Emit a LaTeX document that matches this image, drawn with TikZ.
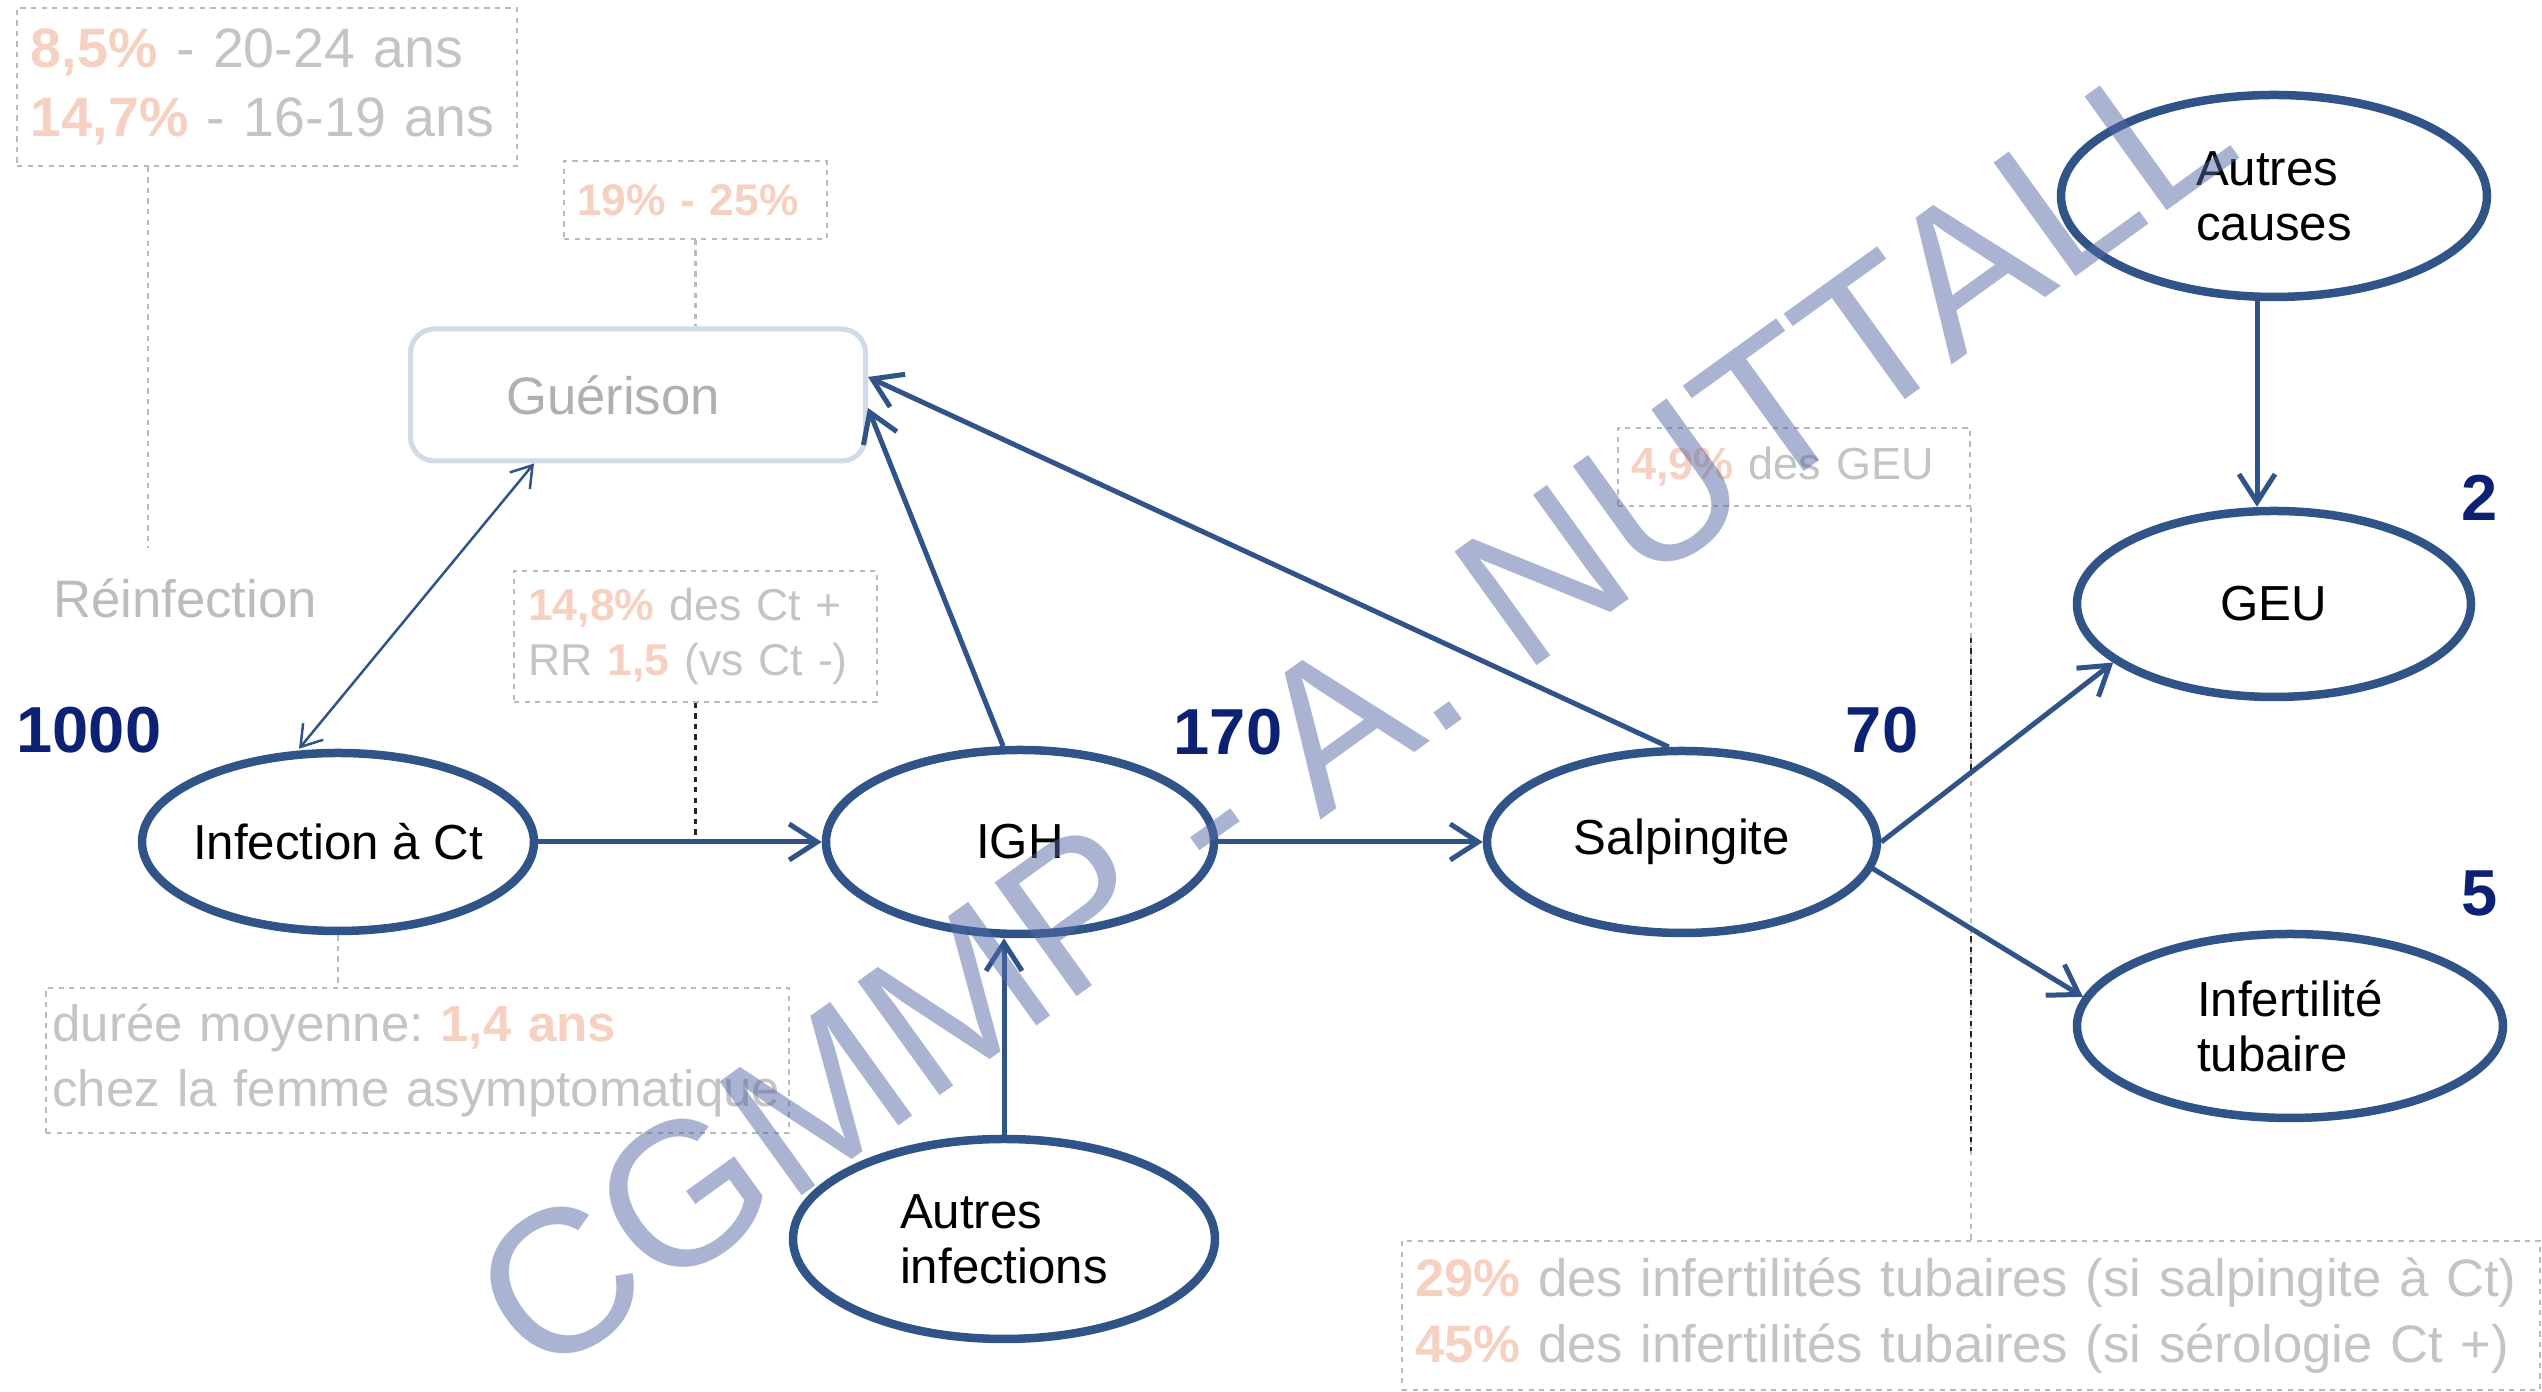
\documentclass[tikz,border=0pt]{standalone}
\usepackage{fontspec}
\setsansfont{Liberation Sans}
\usepackage{xcolor}
\usetikzlibrary{calc}
\usetikzlibrary{positioning}
\usetikzlibrary{shapes.geometric}
\usetikzlibrary{arrows.meta}

\definecolor{ovalblue}{RGB}{48,84,136}
\definecolor{numnavy}{RGB}{12,33,115}
\definecolor{pctorange}{RGB}{246,208,192}
\definecolor{notegrey}{RGB}{196,196,196}
\definecolor{boxgrey}{RGB}{185,185,185}
\definecolor{guerline}{RGB}{208,218,232}
\definecolor{wmblue}{RGB}{85,105,165}

\begin{document}
\begin{tikzpicture}[->, >={Straight Barb[length=2.8mm,width=3.6mm]}, font=\sffamily, node distance=3cm, on grid]
    \tikzstyle{oval}=[ellipse, draw=ovalblue, line width=0.085cm, inner sep=0pt, align=left, font=\sffamily\fontsize{14}{15.6}\selectfont]
    \tikzstyle{count}=[text=numnavy, font=\sffamily\bfseries\fontsize{18.5}{20}\selectfont]
    \tikzstyle{note}=[draw=boxgrey, dash pattern=on 1.5pt off 1.5pt, line width=0.5pt, text=notegrey, align=left, inner xsep=0.14cm, execute at begin node=\frenchspacing]
    \tikzstyle{guide}=[-, draw=boxgrey, dash pattern=on 1.5pt off 1.5pt, line width=0.6pt]
    \tikzstyle{guidedark}=[-, draw=black!85, dash pattern=on 1.5pt off 1.5pt, line width=0.6pt]
    \tikzstyle{arr}=[->, draw=ovalblue, line width=0.05cm]
    \newcommand{\pct}[1]{{\color{pctorange}\bfseries #1}}

    \useasboundingbox (0,0) rectangle (25.42,13.92);

    % main chain
    \node[oval, minimum width=3.92cm, minimum height=1.78cm] (inf) at (3.38,5.50) {\makebox[0pt]{Infection à Ct}};
    \node[oval, right=6.82cm of inf, minimum width=3.88cm, minimum height=1.84cm] (igh) {IGH};
    \node[oval, right=6.62cm of igh, minimum width=3.90cm, minimum height=1.82cm] (salp) {Salpingite};
    \node[oval, below=3.97cm of igh, xshift=-0.16cm, minimum width=4.22cm, minimum height=2.00cm] (autinf) {Autres\\infections};
    \node[oval, above right=2.38cm and 5.92cm of salp, minimum width=3.94cm, minimum height=1.86cm] (geu) {GEU};
    \node[oval, below right=1.84cm and 6.08cm of salp, minimum width=4.26cm, minimum height=1.84cm] (infert) {Infertilité\\tubaire};
    \node[oval, above=4.08cm of geu, minimum width=4.26cm, minimum height=2.02cm] (autcau) {Autres\\causes};
    \node[rectangle, rounded corners=0.24cm, draw=guerline, line width=0.05cm, minimum width=4.55cm, minimum height=1.32cm,
          text={rgb,255:red,176;green,176;blue,176}, font=\sffamily\fontsize{15}{17}\selectfont,
          above right=4.47cm and 3.0cm of inf] (guer) {Guérison\hspace*{0.5cm}};

    % counts
    \node[count] (n1000) at ($(inf)+(-2.49,1.12)$) {1000};
    \node[count] (n170) at ($(igh)+(2.08,1.10)$) {170};
    \node[count] (n70) at ($(salp)+(2.00,1.12)$) {70};
    \node[count] (n2) at ($(geu)+(2.06,1.06)$) {2};
    \node[count] (n5) at ($(infert)+(1.90,1.33)$) {5};
    \node[text={rgb,255:red,188;green,188;blue,188}, font=\sffamily\fontsize{15}{17}\selectfont] (reinf) at ($(inf)+(-1.53,2.44)$) {Réinfection};

    % notes
    \node[note, text width=4.72cm, minimum height=1.58cm, font=\sffamily\fontsize{15.8}{19.4}\selectfont] (agebox) at (2.67,13.05)
        {\pct{8,5\%} - 20-24 ans\\\pct{14,7\%} - 16-19 ans};
    \node[note, text width=2.37cm, inner xsep=0.13cm, minimum height=0.78cm, font=\sffamily\fontsize{12.6}{15}\selectfont] (pctbox) at (6.955,11.92)
        {\pct{19\% - 25\%}};
    \node[note, text width=3.35cm, minimum height=1.31cm, font=\sffamily\fontsize{12.7}{15.4}\selectfont] (ctbox) at (6.955,7.555)
        {\pct{14,8\%} des Ct +\\RR \pct{1,5} (vs Ct -)};
    \node[note, text width=7.30cm, inner xsep=0.065cm, minimum height=1.45cm, font=\sffamily\fontsize{14.5}{18.5}\selectfont] (durbox) at (4.175,3.315)
        {durée moyenne: \pct{1,4 ans}\\chez la femme asymptomatique};
    \node[note, text width=3.26cm, inner xsep=0.13cm, minimum height=0.78cm, font=\sffamily\fontsize{12.8}{15}\selectfont] (geubox) at (17.94,9.25)
        {\pct{4,9\%} des GEU};
    \node[note, text width=11.12cm, inner xsep=0.13cm, minimum height=1.49cm, font=\sffamily\fontsize{15}{18.8}\selectfont] (tubbox) at (19.71,0.765)
        {\pct{29\%} des infertilités tubaires (si salpingite à Ct)\\\pct{45\%} des infertilités tubaires (si sérologie Ct +)};

    \coordinate (reinfpt) at ($(reinf.north)+(-0.37,0.18)$);
    \draw[guide] (reinfpt |- agebox.south) -- (reinfpt);
    \draw[guide] (pctbox.south) -- (pctbox.south |- guer.north);
    \draw[guidedark] (ctbox.south) -- (ctbox.south |- inf.east);
    \draw[guide] (inf.south) -- (inf.south |- durbox.north);
    \draw[guide] (geubox.south east) -- (geubox.south east |- tubbox.north);
    \draw[guidedark] ($(geubox.south east)+(0,-1.31)$) -- ++(0,-1.36);
    \draw[guidedark] ($(geubox.south east)+(0,-4.19)$) -- ++(0,-2.25);

    % arrows
    \path[arr] (inf) edge (igh);
    \path[arr] (igh) edge (salp);
    \draw[arr] (autinf.north) -- (autinf.north |- igh.south);
    \draw[arr] (igh.100) -- ($(guer.east)+(0,-0.13)$);
    \draw[arr] (salp.98) -- ($(guer.east)+(0,0.18)$);
    \draw[{Straight Barb[length=2mm,width=2.6mm]}-{Straight Barb[length=2mm,width=2.6mm]}, draw=ovalblue, line width=0.025cm]
        ($(inf.north)+(-0.39,0)$) -- ($(guer.south)+(-1.04,0)$);
    \draw[arr] ($(autcau.south)+(-0.17,0)$) -- ($(geu.north)+(-0.17,0)$);
    \draw[arr] (salp.east) -- (geu.200);
    \draw[arr] (salp.-8) -- (infert.172);

    % watermark
    \node[text=wmblue, opacity=0.5, rotate=35.8, font=\sffamily\fontsize{58}{60}\selectfont] (wmark) at (13.52,6.80) {CGMMP - A. NUTTALL};
\end{tikzpicture}
\end{document}
